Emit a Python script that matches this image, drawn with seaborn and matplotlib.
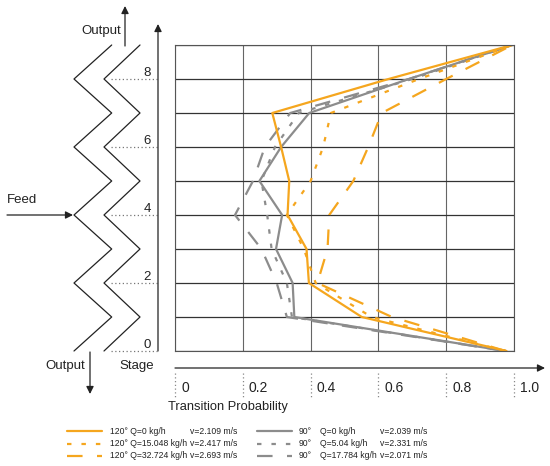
import matplotlib
matplotlib.use('Agg')

import numpy as np
import pandas as pd
import matplotlib.pyplot as plt
import seaborn as sns
from matplotlib.transforms import blended_transform_factory, offset_copy

# stage numbers and transition probability
stages = list(range(10))
p_120_q0 = [0.978, 0.551, 0.395, 0.388, 0.332, 0.337, 0.313, 0.287, 0.63, 0.995]
p_120_q15 = [0.975, 0.58, 0.415, 0.38, 0.33, 0.40, 0.437, 0.46, 0.72, 0.995]
p_120_q32 = [0.975, 0.64, 0.42, 0.45, 0.455, 0.526, 0.57, 0.61, 0.80, 0.995]
p_90_q0 = [0.975, 0.352, 0.347, 0.298, 0.316, 0.249, 0.313, 0.396, 0.69, 0.995]
p_90_q5 = [0.975, 0.345, 0.33, 0.285, 0.272, 0.255, 0.295, 0.365, 0.70, 0.995]
p_90_q17 = [0.975, 0.33, 0.30, 0.255, 0.177, 0.23, 0.265, 0.34, 0.69, 0.995]

labels_120 = ["120° Q=0 kg/h", "120° Q=15.048 kg/h", "120° Q=32.724 kg/h"]
v_120 = ["v=2.109 m/s", "v=2.417 m/s", "v=2.693 m/s"]
labels_90 = ["Q=0 kg/h", "Q=5.04 kg/h", "Q=17.784 kg/h"]
v_90 = ["v=2.039 m/s", "v=2.331 m/s", "v=2.071 m/s"]

x_ticks = [0, 0.2, 0.4, 0.6, 0.8, 1.0]
x_tick_labels = ["0", "0.2", "0.4", "0.6", "0.8", "1.0"]
stage_labels = [0, 2, 4, 6, 8]

ORANGE = "#F5A61E"
GREY = "#8C8C8C"
INK = "#222222"

series = {
    "g0": p_90_q0, "g5": p_90_q5, "g17": p_90_q17,
    "o0": p_120_q0, "o15": p_120_q15, "o32": p_120_q32,
}
rows = []
for name, vals in series.items():
    for s, p in zip(stages, vals):
        rows.append({"series": name, "stage": s, "prob": p})
df = pd.DataFrame(rows)

palette = {"g0": GREY, "g5": GREY, "g17": GREY, "o0": ORANGE, "o15": ORANGE, "o32": ORANGE}
dash_short = (2, 4.5)
dash_long = (7, 6.5)
dashes = {"g0": "", "g5": dash_short, "g17": dash_long,
          "o0": "", "o15": dash_short, "o32": dash_long}

sns.set_theme(style="white")
plt.rcParams['font.family'] = ['Liberation Sans', 'DejaVu Sans']

fig = plt.figure(figsize=(5.5, 4.66), dpi=100)
W, H = 550, 466

# main grid, placed in pixels
left, right, top, bottom = 175, 514, 45, 351
ax = fig.add_axes([left / W, 1 - bottom / H, (right - left) / W, (bottom - top) / H])
sns.lineplot(data=df, x="prob", y="stage", hue="series", style="series",
             hue_order=list(series.keys()), style_order=list(series.keys()),
             palette=palette, dashes=dashes, estimator=None, sort=False,
             linewidth=1.6, legend=False, ax=ax)
ax.set_xlim(0, 1)
ax.set_ylim(0, 9)
ax.set_xticks(x_ticks)
ax.set_yticks(stages)
ax.grid(True, axis="y", color="#333333", lw=0.9)
ax.grid(True, axis="x", color="#666666", lw=0.8)
ax.set_axisbelow(True)
ax.tick_params(length=0, labelbottom=False, labelleft=False)
ax.set_xlabel("")
ax.set_ylabel("")
for sp in ax.spines.values():
    sp.set_color("#555555")
    sp.set_linewidth(0.8)

# overlay in pixel coordinates for the schematic and axis decorations
ov = fig.add_axes([0, 0, 1, 1], zorder=-1)
ov.set_xlim(0, W)
ov.set_ylim(H, 0)
ov.axis("off")

stage_tr = blended_transform_factory(ov.transData, ax.transData)
prob_tr = blended_transform_factory(ax.transData, ov.transData)
prob_lab_tr = offset_copy(prob_tr, fig=fig, x=6, y=0, units="dots")

arrow = dict(arrowstyle="-|>", color=INK, lw=0.9, mutation_scale=11, shrinkA=0, shrinkB=0)

# zigzag column walls
zig_left = [74 if s % 2 == 0 else 111.7 for s in stages]
zig_right = [104 if s % 2 == 0 else 140 for s in stages]
ov.plot(zig_left, stages, color=INK, lw=0.9, transform=stage_tr)
ov.plot(zig_right, stages, color=INK, lw=0.9, transform=stage_tr)

# stage axis
ov.annotate("", xy=(158, 24), xytext=(158, 351), arrowprops=arrow)
for s in stage_labels:
    ov.plot([111, 157], [s, s], color="#777777", lw=0.9, ls=(0, (1, 2)), transform=stage_tr)
    ov.text(151, s, str(s), transform=stage_tr, ha="right", va="bottom",
            fontsize=9.5, color=INK)

# flows
ov.annotate("", xy=(125, 6), xytext=(125, 46), arrowprops=arrow)
ov.text(121, 31, "Output", ha="right", va="center", fontsize=9.5, color=INK)
ov.annotate("", xy=(90, 394), xytext=(90, 352), arrowprops=arrow)
ov.text(85, 366, "Output", ha="right", va="center", fontsize=9.5, color=INK)
ov.text(137, 366, "Stage", ha="center", va="center", fontsize=9.5, color=INK)
ov.annotate("", xy=(73, 215), xytext=(7, 215), arrowprops=arrow)
ov.text(7, 206, "Feed", ha="left", va="bottom", fontsize=9.5, color=INK)

# probability axis
ov.annotate("", xy=(545, 368), xytext=(175, 368), arrowprops=arrow)
for t, lab in zip(x_ticks, x_tick_labels):
    ov.plot([t, t], [373, 398], color="#888888", lw=0.9, ls=(0, (1, 2)), transform=prob_tr)
    ov.text(t, 388, lab, transform=prob_lab_tr, ha="left", va="center",
            fontsize=10, color=INK)
ov.text(228, 407, "Transition Probability", ha="center", va="center", fontsize=9.3, color=INK)

# legend
leg_y = [431, 443.5, 456]
styles = ["-", (0, dash_short), (0, dash_long)]
for i in range(3):
    ls = styles[i]
    ov.plot([67, 102], [leg_y[i], leg_y[i]], color=ORANGE, lw=1.6, ls=ls)
    ov.plot([257, 292], [leg_y[i], leg_y[i]], color=GREY, lw=1.6, ls=ls)
    ov.text(110, leg_y[i], labels_120[i], ha="left", va="center", fontsize=6.2, color=INK)
    ov.text(190, leg_y[i], v_120[i], ha="left", va="center", fontsize=6.2, color=INK)
    ov.text(299, leg_y[i], "90°", ha="left", va="center", fontsize=6.2, color=INK)
    ov.text(320, leg_y[i], labels_90[i], ha="left", va="center", fontsize=6.2, color=INK)
    ov.text(380, leg_y[i], v_90[i], ha="left", va="center", fontsize=6.2, color=INK)

fig.savefig("out.png", dpi=100)
plt.close(fig)
